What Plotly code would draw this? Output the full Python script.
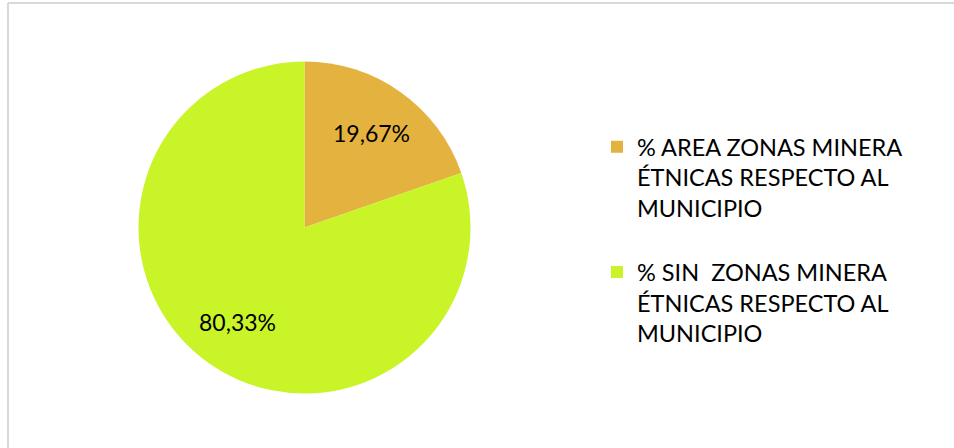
import math
import plotly.graph_objects as go

# Share of municipal area with / without ethnic mining zones
labels = [
    "% AREA ZONAS MINERA<br>ÉTNICAS RESPECTO AL<br>MUNICIPIO<br> ",
    "% SIN  ZONAS MINERA<br>ÉTNICAS RESPECTO AL<br>MUNICIPIO",
]
values = [19.67, 80.33]
colors = ["#E4B23F", "#C8F428"]

W, H = 954, 448
cx, cy, r = 304.5, 227.5, 166
FONT = "Lato"

fig = go.Figure(
    go.Pie(
        labels=labels,
        values=values,
        sort=False,
        direction="clockwise",
        rotation=0,
        marker=dict(colors=colors, line=dict(width=0)),
        textinfo="none",
        hoverinfo="percent",
        domain=dict(
            x=[(cx - r) / W, (cx + r) / W],
            y=[1 - (cy + r) / H, 1 - (cy - r) / H],
        ),
    )
)

# Percentage labels placed along each slice's bisector
total = sum(values)
start = 0.0
for v in values:
    mid = (start + v / 2) / total * 2 * math.pi  # clockwise from 12 o'clock
    start += v
    px = cx + 0.7 * r * math.sin(mid)
    py = cy - 0.7 * r * math.cos(mid)
    fig.add_annotation(
        x=px / W, y=1 - py / H, xref="paper", yref="paper",
        text=f"{v:.2f}%".replace(".", ","), showarrow=False,
        font=dict(family=FONT, size=23, color="#000000"),
        xanchor="center", yanchor="middle",
    )

# Chart-area frame (light grey, open to the right and bottom)
frame = dict(type="line", xref="paper", yref="paper", line=dict(color="#D9D9D9", width=2))
fig.add_shape(**frame, x0=8 / W, y0=1 - 3 / H, x1=1.0, y1=1 - 3 / H)
fig.add_shape(**frame, x0=8 / W, y0=1 - 3 / H, x1=8 / W, y1=0.0)

fig.update_layout(
    width=W,
    height=H,
    margin=dict(l=0, r=0, t=0, b=0),
    paper_bgcolor="white",
    plot_bgcolor="white",
    showlegend=True,
    legend=dict(
        x=597 / W,
        y=1 - 125 / H,
        xanchor="left",
        yanchor="top",
        valign="top",
        font=dict(family=FONT, size=23.5, color="#000000"),
        bgcolor="rgba(0,0,0,0)",
    ),
    font=dict(family=FONT),
)

fig.write_html("out.html")
